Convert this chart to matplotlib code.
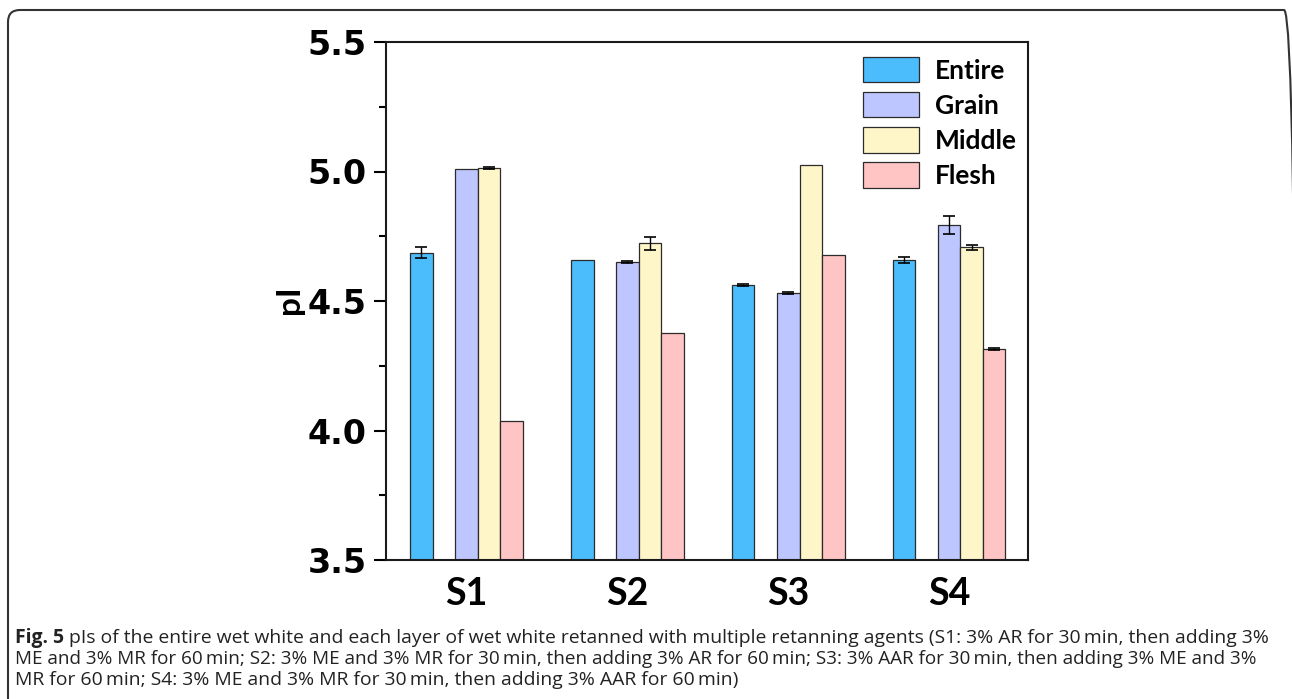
import matplotlib
matplotlib.use("Agg")
import matplotlib.pyplot as plt
from matplotlib.patches import FancyBboxPatch, Patch
import numpy as np

# pI values per sample, one list per layer
samples = ["S1", "S2", "S3", "S4"]
layers = ["Entire", "Grain", "Middle", "Flesh"]
entire = [4.686, 4.658, 4.563, 4.658]
grain = [5.008, 4.651, 4.532, 4.793]
middle = [5.013, 4.723, 5.027, 4.708]
flesh = [4.036, 4.377, 4.677, 4.314]
entire_err = [0.021, 0.0, 0.004, 0.010]
grain_err = [0.0, 0.004, 0.004, 0.035]
middle_err = [0.004, 0.026, 0.0, 0.010]
flesh_err = [0.0, 0.0, 0.0, 0.004]
colors = ["#4bbdfd", "#bec6ff", "#fef6c9", "#ffc4c4"]

caption_bold = "Fig. 5"
caption_lines = [
    " pIs of the entire wet white and each layer of wet white retanned with multiple retanning agents (S1: 3% AR for 30\u2009min, then adding 3%",
    "ME and 3% MR for 60\u2009min; S2: 3% ME and 3% MR for 30\u2009min, then adding 3% AR for 60\u2009min; S3: 3% AAR for 30\u2009min, then adding 3% ME and 3%",
    "MR for 60\u2009min; S4: 3% ME and 3% MR for 30\u2009min, then adding 3% AAR for 60\u2009min)",
]

W, H = 1292, 699
fig = plt.figure(figsize=(W / 100, H / 100), dpi=100)
ax = fig.add_axes([386 / W, 1 - 560 / H, (1028 - 386) / W, (560 - 42) / H])

x = np.arange(1, len(samples) + 1)
w = 0.14
# five slots per group, the second one left empty
offsets = [-2 * w, 0.0, w, 2 * w]
values = [entire, grain, middle, flesh]
errors = [entire_err, grain_err, middle_err, flesh_err]

for vals, errs, off, col, name in zip(values, errors, offsets, colors, layers):
    ax.bar(x + off, vals, width=w, bottom=0, color=col, edgecolor="#2b2b2b",
           linewidth=0.9, label=name, zorder=2)
    vals = np.array(vals)
    errs = np.array(errs)
    m = errs > 0
    ax.errorbar((x + off)[m], vals[m], yerr=errs[m], fmt="none", ecolor="black",
                elinewidth=1.0, capsize=4, capthick=1.2, zorder=3)

ax.set_xlim(0.5, 4.49)
ax.set_ylim(3.5, 5.5)
ax.set_yticks([3.5, 4.0, 4.5, 5.0, 5.5])
ax.set_yticks(np.arange(3.5, 5.51, 0.25), minor=True)
ax.set_yticklabels(["3.5", "4.0", "4.5", "5.0", "5.5"])
ax.set_xticks(x)
ax.set_xticklabels(samples)

for s in ax.spines.values():
    s.set_linewidth(1.5)
    s.set_color("#1a1a1a")

ax.tick_params(axis="y", which="major", direction="out", length=9, width=1.5,
               pad=5, labelsize=24)
ax.tick_params(axis="y", which="minor", direction="out", length=5, width=1.5)
ax.tick_params(axis="x", length=0, pad=12)
for lab in ax.get_yticklabels():
    lab.set_fontfamily("DejaVu Sans")
    lab.set_fontweight("bold")
for lab in ax.get_xticklabels():
    lab.set_fontfamily("Lato")
    lab.set_fontweight("bold")
    lab.set_fontsize(27)

fig.text(290 / W, 1 - 300 / H, "pI", rotation=90, ha="center", va="center",
         fontsize=24, fontweight="bold", fontfamily="Lato")

handles = [Patch(facecolor=c, edgecolor="#2b2b2b", linewidth=0.9) for c in colors]
ax.legend(handles, layers, loc="upper left",
          bbox_to_anchor=(863 / W, 1 - 57 / H), bbox_transform=fig.transFigure,
          frameon=False, borderpad=0, borderaxespad=0, handlelength=2.12,
          handleheight=1.1, handletextpad=0.6, labelspacing=0.36,
          prop={"family": "Lato", "weight": "bold", "size": 19})

# rounded frame around the figure panel
frame = FancyBboxPatch((8, -30), 1296 - 8, 689 + 30, boxstyle="round,pad=0,rounding_size=12",
                       transform=None, facecolor="none", edgecolor="#333333",
                       linewidth=1.5, clip_on=False)
fig.patches.append(frame)

# caption: three lines, each sized to fill its own width
cap_kw = dict(fontfamily=["Open Sans", "DejaVu Sans"], color="#222222", va="baseline")
x0 = 15
baselines = [643, 664, 685]
line_ends = [1276, 1265, None]
r = fig.canvas.get_renderer()

fs = 14
t0 = fig.text(x0 / W, 1 - baselines[0] / H, caption_bold, fontweight="bold", fontsize=fs, **cap_kw)
t1 = fig.text(0, 1 - baselines[0] / H, caption_lines[0], fontsize=fs, **cap_kw)
wb = t0.get_window_extent(r).width
wr = t1.get_window_extent(r).width
fs1 = fs * (line_ends[0] - x0) / (wb + wr)
t0.set_fontsize(fs1)
t1.set_fontsize(fs1)
t1.set_x((x0 + t0.get_window_extent(r).width) / W)

t2 = fig.text(x0 / W, 1 - baselines[1] / H, caption_lines[1], fontsize=fs, **cap_kw)
t2.set_fontsize(fs * (line_ends[1] - x0) / t2.get_window_extent(r).width)
fig.text(x0 / W, 1 - baselines[2] / H, caption_lines[2], fontsize=fs1, **cap_kw)

fig.savefig("out.png", dpi=100)
